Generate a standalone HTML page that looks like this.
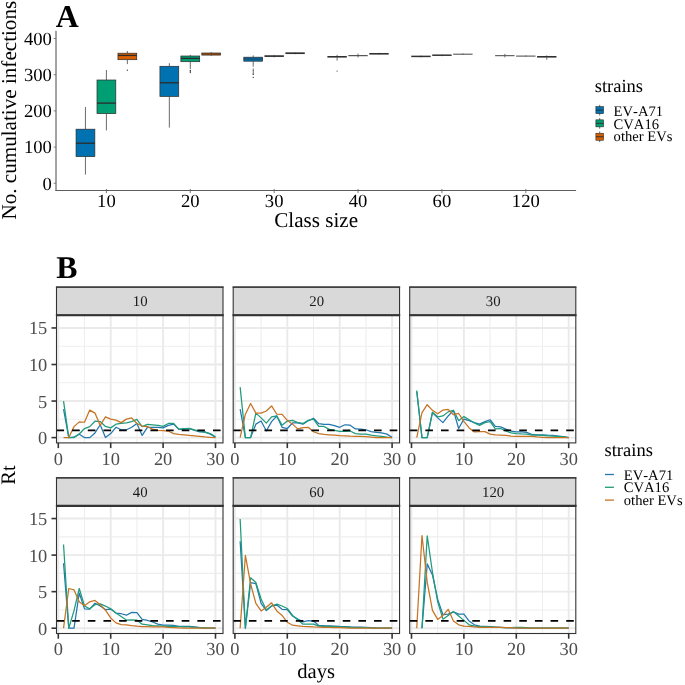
<!DOCTYPE html>
<html lang="en">
<head>
<meta charset="utf-8">
<title>Figure</title>
<style>
html, body { margin: 0; padding: 0; background: #ffffff; }
body { width: 685px; height: 685px; overflow: hidden; font-family: "Liberation Serif", serif; }
svg { display: block; will-change: transform; opacity: 0.999; }
text { font-family: "Liberation Serif", serif; font-kerning: none; text-rendering: geometricPrecision; }
</style>
</head>
<body>
<svg width="685" height="685" viewBox="0 0 685 685">
<rect x="0" y="0" width="685" height="685" fill="#ffffff"/>
<text x="55.7" y="26.6" font-family='"Liberation Serif", serif' font-weight="bold" font-size="31.8" fill="#000">A</text>
<line x1="56.0" y1="30.8" x2="56.0" y2="191.0" stroke="#484848" stroke-width="1"/>
<line x1="55.5" y1="190.5" x2="576.1" y2="190.5" stroke="#5c5c5c" stroke-width="1"/>
<line x1="53.6" y1="183.30" x2="56.0" y2="183.30" stroke="#5a5a5a" stroke-width="0.7"/>
<text x="51.9" y="189.50" text-anchor="end" font-family='"Liberation Serif", serif' font-size="18.6" fill="#000">0</text>
<line x1="53.6" y1="147.10" x2="56.0" y2="147.10" stroke="#5a5a5a" stroke-width="0.7"/>
<text x="51.9" y="153.30" text-anchor="end" font-family='"Liberation Serif", serif' font-size="18.6" fill="#000">100</text>
<line x1="53.6" y1="110.90" x2="56.0" y2="110.90" stroke="#5a5a5a" stroke-width="0.7"/>
<text x="51.9" y="117.10" text-anchor="end" font-family='"Liberation Serif", serif' font-size="18.6" fill="#000">200</text>
<line x1="53.6" y1="74.70" x2="56.0" y2="74.70" stroke="#5a5a5a" stroke-width="0.7"/>
<text x="51.9" y="80.90" text-anchor="end" font-family='"Liberation Serif", serif' font-size="18.6" fill="#000">300</text>
<line x1="53.6" y1="38.50" x2="56.0" y2="38.50" stroke="#5a5a5a" stroke-width="0.7"/>
<text x="51.9" y="44.70" text-anchor="end" font-family='"Liberation Serif", serif' font-size="18.6" fill="#000">400</text>
<line x1="106.40" y1="188.9" x2="106.40" y2="193.1" stroke="#5a5a5a" stroke-width="0.8"/>
<text x="106.40" y="207.4" text-anchor="middle" font-family='"Liberation Serif", serif' font-size="18.6" fill="#000">10</text>
<line x1="190.28" y1="188.9" x2="190.28" y2="193.1" stroke="#5a5a5a" stroke-width="0.8"/>
<text x="190.28" y="207.4" text-anchor="middle" font-family='"Liberation Serif", serif' font-size="18.6" fill="#000">20</text>
<line x1="274.16" y1="188.9" x2="274.16" y2="193.1" stroke="#5a5a5a" stroke-width="0.8"/>
<text x="274.16" y="207.4" text-anchor="middle" font-family='"Liberation Serif", serif' font-size="18.6" fill="#000">30</text>
<line x1="358.04" y1="188.9" x2="358.04" y2="193.1" stroke="#5a5a5a" stroke-width="0.8"/>
<text x="358.04" y="207.4" text-anchor="middle" font-family='"Liberation Serif", serif' font-size="18.6" fill="#000">40</text>
<line x1="441.92" y1="188.9" x2="441.92" y2="193.1" stroke="#5a5a5a" stroke-width="0.8"/>
<text x="441.92" y="207.4" text-anchor="middle" font-family='"Liberation Serif", serif' font-size="18.6" fill="#000">60</text>
<line x1="525.80" y1="188.9" x2="525.80" y2="193.1" stroke="#5a5a5a" stroke-width="0.8"/>
<text x="525.80" y="207.4" text-anchor="middle" font-family='"Liberation Serif", serif' font-size="18.6" fill="#000">120</text>
<text x="316.2" y="227.4" text-anchor="middle" font-family='"Liberation Serif", serif' font-size="21.1" fill="#000">Class size</text>
<text transform="translate(16.3,110.2) rotate(-90)" text-anchor="middle" font-family='"Liberation Serif", serif' font-size="21.13" fill="#000">No. cumulative infections</text>
<line x1="85.45" y1="107.0" x2="85.45" y2="129.2" stroke="#2b2b2b" stroke-width="0.7"/>
<line x1="85.45" y1="156.6" x2="85.45" y2="174.6" stroke="#2b2b2b" stroke-width="0.7"/>
<rect x="76.05" y="129.2" width="18.8" height="27.40" fill="#0072B2" stroke="#2b2b2b" stroke-width="0.7"/>
<line x1="76.05" y1="143.2" x2="94.85" y2="143.2" stroke="#2b2b2b" stroke-width="1.3"/>
<line x1="106.40" y1="70.0" x2="106.40" y2="80.0" stroke="#2b2b2b" stroke-width="0.7"/>
<line x1="106.40" y1="113.6" x2="106.40" y2="130.4" stroke="#2b2b2b" stroke-width="0.7"/>
<rect x="97.00" y="80.0" width="18.8" height="33.60" fill="#009E73" stroke="#2b2b2b" stroke-width="0.7"/>
<line x1="97.00" y1="103.1" x2="115.80" y2="103.1" stroke="#2b2b2b" stroke-width="1.3"/>
<line x1="127.35" y1="51.0" x2="127.35" y2="53.2" stroke="#2b2b2b" stroke-width="0.7"/>
<line x1="127.35" y1="59.7" x2="127.35" y2="64.1" stroke="#2b2b2b" stroke-width="0.7"/>
<rect x="117.95" y="53.2" width="18.8" height="6.50" fill="#D55E00" stroke="#2b2b2b" stroke-width="0.7"/>
<line x1="117.95" y1="55.4" x2="136.75" y2="55.4" stroke="#2b2b2b" stroke-width="1.3"/>
<circle cx="127.35" cy="70.2" r="0.6" fill="#222"/>
<line x1="169.33" y1="63.2" x2="169.33" y2="66.3" stroke="#2b2b2b" stroke-width="0.7"/>
<line x1="169.33" y1="96.4" x2="169.33" y2="127.6" stroke="#2b2b2b" stroke-width="0.7"/>
<rect x="159.93" y="66.3" width="18.8" height="30.10" fill="#0072B2" stroke="#2b2b2b" stroke-width="0.7"/>
<line x1="159.93" y1="82.8" x2="178.73" y2="82.8" stroke="#2b2b2b" stroke-width="1.3"/>
<line x1="190.28" y1="54.9" x2="190.28" y2="56.0" stroke="#2b2b2b" stroke-width="0.7"/>
<line x1="190.28" y1="61.7" x2="190.28" y2="69.0" stroke="#2b2b2b" stroke-width="0.7"/>
<rect x="180.88" y="56.0" width="18.8" height="5.70" fill="#009E73" stroke="#2b2b2b" stroke-width="0.7"/>
<line x1="180.88" y1="58.4" x2="199.68" y2="58.4" stroke="#2b2b2b" stroke-width="1.3"/>
<circle cx="190.28" cy="70.4" r="0.6" fill="#222"/>
<circle cx="190.28" cy="71.6" r="0.6" fill="#222"/>
<circle cx="190.28" cy="72.6" r="0.6" fill="#222"/>
<line x1="211.23" y1="52.2" x2="211.23" y2="53.0" stroke="#2b2b2b" stroke-width="0.7"/>
<line x1="211.23" y1="55.1" x2="211.23" y2="55.8" stroke="#2b2b2b" stroke-width="0.7"/>
<rect x="201.83" y="53.0" width="18.8" height="2.10" fill="#D55E00" stroke="#2b2b2b" stroke-width="0.7"/>
<line x1="201.83" y1="54.0" x2="220.63" y2="54.0" stroke="#2b2b2b" stroke-width="0.7"/>
<line x1="253.21" y1="55.4" x2="253.21" y2="57.2" stroke="#2b2b2b" stroke-width="0.7"/>
<line x1="253.21" y1="61.2" x2="253.21" y2="66.6" stroke="#2b2b2b" stroke-width="0.7"/>
<rect x="243.81" y="57.2" width="18.8" height="4.00" fill="#0072B2" stroke="#2b2b2b" stroke-width="0.7"/>
<line x1="243.81" y1="59.0" x2="262.61" y2="59.0" stroke="#2b2b2b" stroke-width="0.7"/>
<circle cx="253.21" cy="69.0" r="0.6" fill="#222"/>
<circle cx="253.21" cy="70.3" r="0.6" fill="#222"/>
<circle cx="253.21" cy="71.8" r="0.6" fill="#222"/>
<circle cx="253.21" cy="73.2" r="0.6" fill="#222"/>
<circle cx="253.21" cy="74.4" r="0.6" fill="#222"/>
<circle cx="253.21" cy="77.4" r="0.6" fill="#222"/>
<line x1="274.16" y1="54.9" x2="274.16" y2="55.6" stroke="#2b2b2b" stroke-width="0.7"/>
<line x1="274.16" y1="56.7" x2="274.16" y2="57.4" stroke="#2b2b2b" stroke-width="0.7"/>
<line x1="264.46" y1="56.1" x2="283.86" y2="56.1" stroke="#303030" stroke-width="1.7"/>
<line x1="295.11" y1="52.2" x2="295.11" y2="52.7" stroke="#2b2b2b" stroke-width="0.7"/>
<line x1="295.11" y1="53.7" x2="295.11" y2="54.2" stroke="#2b2b2b" stroke-width="0.7"/>
<line x1="285.41" y1="53.2" x2="304.81" y2="53.2" stroke="#303030" stroke-width="1.7"/>
<line x1="337.09" y1="54.9" x2="337.09" y2="56.2" stroke="#2b2b2b" stroke-width="0.7"/>
<line x1="337.09" y1="57.5" x2="337.09" y2="60.6" stroke="#2b2b2b" stroke-width="0.7"/>
<line x1="327.39" y1="56.8" x2="346.79" y2="56.8" stroke="#303030" stroke-width="1.6"/>
<circle cx="337.09" cy="71.0" r="0.6" fill="#222"/>
<line x1="358.04" y1="53.6" x2="358.04" y2="55.3" stroke="#2b2b2b" stroke-width="0.7"/>
<line x1="358.04" y1="56.0" x2="358.04" y2="57.4" stroke="#2b2b2b" stroke-width="0.7"/>
<line x1="348.34" y1="55.7" x2="367.74" y2="55.7" stroke="#303030" stroke-width="1.0"/>
<line x1="378.99" y1="52.8" x2="378.99" y2="53.2" stroke="#2b2b2b" stroke-width="0.7"/>
<line x1="378.99" y1="54.4" x2="378.99" y2="54.8" stroke="#2b2b2b" stroke-width="0.7"/>
<line x1="369.29" y1="53.8" x2="388.69" y2="53.8" stroke="#303030" stroke-width="1.6"/>
<line x1="420.97" y1="55.4" x2="420.97" y2="55.8" stroke="#2b2b2b" stroke-width="0.7"/>
<line x1="420.97" y1="57.0" x2="420.97" y2="57.4" stroke="#2b2b2b" stroke-width="0.7"/>
<line x1="411.27" y1="56.4" x2="430.67" y2="56.4" stroke="#303030" stroke-width="1.5"/>
<line x1="441.92" y1="54.2" x2="441.92" y2="54.6" stroke="#2b2b2b" stroke-width="0.7"/>
<line x1="441.92" y1="55.8" x2="441.92" y2="56.2" stroke="#2b2b2b" stroke-width="0.7"/>
<line x1="432.22" y1="55.2" x2="451.62" y2="55.2" stroke="#303030" stroke-width="1.5"/>
<line x1="462.87" y1="53.4" x2="462.87" y2="53.9" stroke="#2b2b2b" stroke-width="0.7"/>
<line x1="462.87" y1="54.5" x2="462.87" y2="55.0" stroke="#2b2b2b" stroke-width="0.7"/>
<line x1="453.17" y1="54.2" x2="472.57" y2="54.2" stroke="#303030" stroke-width="0.9"/>
<line x1="504.85" y1="53.9" x2="504.85" y2="55.3" stroke="#2b2b2b" stroke-width="0.7"/>
<line x1="504.85" y1="56.1" x2="504.85" y2="57.4" stroke="#2b2b2b" stroke-width="0.7"/>
<line x1="495.15" y1="55.7" x2="514.55" y2="55.7" stroke="#303030" stroke-width="0.9"/>
<line x1="525.80" y1="55.3" x2="525.80" y2="55.8" stroke="#2b2b2b" stroke-width="0.7"/>
<line x1="525.80" y1="56.4" x2="525.80" y2="56.8" stroke="#2b2b2b" stroke-width="0.7"/>
<line x1="516.10" y1="56.1" x2="535.50" y2="56.1" stroke="#303030" stroke-width="0.9"/>
<line x1="546.75" y1="55.4" x2="546.75" y2="56.1" stroke="#2b2b2b" stroke-width="0.7"/>
<line x1="546.75" y1="57.5" x2="546.75" y2="59.7" stroke="#2b2b2b" stroke-width="0.7"/>
<line x1="537.05" y1="56.8" x2="556.45" y2="56.8" stroke="#303030" stroke-width="1.6"/>
<text x="594.7" y="92.1" font-family='"Liberation Serif", serif' font-size="18.55" fill="#000">strains</text>
<line x1="599.7" y1="104.85" x2="599.7" y2="115.45" stroke="#2b2b2b" stroke-width="0.7"/>
<rect x="595.9" y="106.65" width="7.6" height="7.0" fill="#0072B2" stroke="#2b2b2b" stroke-width="0.6"/>
<line x1="595.9" y1="110.15" x2="603.5" y2="110.15" stroke="#2b2b2b" stroke-width="0.9"/>
<text x="613.6" y="115.70" font-family='"Liberation Serif", serif' font-size="14.6" fill="#000">EV-A71</text>
<line x1="599.7" y1="118.05" x2="599.7" y2="128.65" stroke="#2b2b2b" stroke-width="0.7"/>
<rect x="595.9" y="119.85" width="7.6" height="7.0" fill="#009E73" stroke="#2b2b2b" stroke-width="0.6"/>
<line x1="595.9" y1="123.35" x2="603.5" y2="123.35" stroke="#2b2b2b" stroke-width="0.9"/>
<text x="613.6" y="128.55" font-family='"Liberation Serif", serif' font-size="14.6" fill="#000">CVA16</text>
<line x1="599.7" y1="131.45" x2="599.7" y2="142.05" stroke="#2b2b2b" stroke-width="0.7"/>
<rect x="595.9" y="133.25" width="7.6" height="7.0" fill="#D55E00" stroke="#2b2b2b" stroke-width="0.6"/>
<line x1="595.9" y1="136.75" x2="603.5" y2="136.75" stroke="#2b2b2b" stroke-width="0.9"/>
<text x="613.6" y="141.40" font-family='"Liberation Serif", serif' font-size="14.6" fill="#000">other EVs</text>
<text x="56.3" y="277.8" font-family='"Liberation Serif", serif' font-weight="bold" font-size="31.8" fill="#000">B</text>
<g>
<rect x="56.5" y="315.0" width="166.5" height="127.90" fill="#fff"/>
<line x1="56.5" y1="419.32" x2="223.0" y2="419.32" stroke="#eeeeee" stroke-width="1.1"/>
<line x1="56.5" y1="382.77" x2="223.0" y2="382.77" stroke="#eeeeee" stroke-width="1.1"/>
<line x1="56.5" y1="346.22" x2="223.0" y2="346.22" stroke="#eeeeee" stroke-width="1.1"/>
<line x1="84.50" y1="315.0" x2="84.50" y2="442.9" stroke="#eeeeee" stroke-width="1.1"/>
<line x1="136.90" y1="315.0" x2="136.90" y2="442.9" stroke="#eeeeee" stroke-width="1.1"/>
<line x1="189.30" y1="315.0" x2="189.30" y2="442.9" stroke="#eeeeee" stroke-width="1.1"/>
<line x1="56.5" y1="437.60" x2="223.0" y2="437.60" stroke="#eaeaea" stroke-width="1.9"/>
<line x1="56.5" y1="401.05" x2="223.0" y2="401.05" stroke="#eaeaea" stroke-width="1.9"/>
<line x1="56.5" y1="364.50" x2="223.0" y2="364.50" stroke="#eaeaea" stroke-width="1.9"/>
<line x1="56.5" y1="327.95" x2="223.0" y2="327.95" stroke="#eaeaea" stroke-width="1.9"/>
<line x1="58.30" y1="315.0" x2="58.30" y2="442.9" stroke="#eaeaea" stroke-width="1.9"/>
<line x1="110.70" y1="315.0" x2="110.70" y2="442.9" stroke="#eaeaea" stroke-width="1.9"/>
<line x1="163.10" y1="315.0" x2="163.10" y2="442.9" stroke="#eaeaea" stroke-width="1.9"/>
<line x1="215.50" y1="315.0" x2="215.50" y2="442.9" stroke="#eaeaea" stroke-width="1.9"/>
<polyline points="63.54,409.09 68.78,437.60 74.02,437.23 79.26,434.16 84.50,437.60 89.74,437.60 94.98,432.92 100.22,424.73 105.46,437.60 110.70,433.58 115.94,427.29 121.18,429.78 126.42,429.78 131.66,427.29 136.90,423.49 142.14,435.41 147.38,427.29 152.62,427.29 157.86,427.29 163.10,427.88 168.34,425.39 173.58,424.15 178.82,429.41 184.06,429.19 189.30,428.54 194.54,430.44 199.78,431.90 205.02,431.90 210.26,434.16 215.50,437.31" fill="none" stroke="#2477ad" stroke-width="1.25" stroke-linejoin="round"/>
<polyline points="63.54,401.05 68.78,437.60 74.02,437.60 79.26,433.94 84.50,428.54 89.74,426.63 94.98,421.23 100.22,421.52 105.46,426.42 110.70,427.88 115.94,424.15 121.18,423.49 126.42,422.98 131.66,421.66 136.90,419.32 142.14,426.63 147.38,424.44 152.62,424.81 157.86,425.39 163.10,426.42 168.34,423.49 173.58,423.49 178.82,429.19 184.06,428.54 189.30,428.32 194.54,429.78 199.78,431.02 205.02,432.34 210.26,433.58 215.50,436.72" fill="none" stroke="#1f9b7b" stroke-width="1.25" stroke-linejoin="round"/>
<polyline points="63.54,437.60 68.78,437.60 74.02,426.63 79.26,421.88 84.50,422.25 89.74,410.11 94.98,413.11 100.22,425.39 105.46,416.84 110.70,419.11 115.94,420.13 121.18,422.61 126.42,419.11 131.66,417.86 136.90,423.49 142.14,426.05 147.38,426.63 152.62,429.19 157.86,430.44 163.10,430.66 168.34,431.02 173.58,433.58 178.82,434.46 184.06,434.82 189.30,435.41 194.54,435.85 199.78,436.28 205.02,436.94 210.26,437.45 215.50,437.60" fill="none" stroke="#c67324" stroke-width="1.25" stroke-linejoin="round"/>
<line x1="56.5" y1="430.29" x2="223.0" y2="430.29" stroke="#000" stroke-width="1.8" stroke-dasharray="7.6 8.05"/>
<rect x="56.5" y="315.0" width="166.5" height="127.90" fill="none" stroke="#333333" stroke-width="1.1"/>
<rect x="56.5" y="287.1" width="166.5" height="27.90" fill="#d9d9d9" stroke="#333333" stroke-width="1.1"/>
<line x1="55.9" y1="315.30" x2="223.6" y2="315.30" stroke="#333333" stroke-width="2.1"/>
<line x1="55.9" y1="287.10" x2="223.6" y2="287.10" stroke="#333333" stroke-width="1.3"/>
<text x="140.15" y="306.05" text-anchor="middle" font-family='"Liberation Serif", serif' font-size="14.8" fill="#1a1a1a">10</text>
<line x1="58.30" y1="442.9" x2="58.30" y2="448.09999999999997" stroke="#333333" stroke-width="1.6"/>
<text x="58.30" y="464.50" text-anchor="middle" font-family='"Liberation Serif", serif' font-size="18.4" fill="#4d4d4d">0</text>
<line x1="110.70" y1="442.9" x2="110.70" y2="448.09999999999997" stroke="#333333" stroke-width="1.6"/>
<text x="110.70" y="464.50" text-anchor="middle" font-family='"Liberation Serif", serif' font-size="18.4" fill="#4d4d4d">10</text>
<line x1="163.10" y1="442.9" x2="163.10" y2="448.09999999999997" stroke="#333333" stroke-width="1.6"/>
<text x="163.10" y="464.50" text-anchor="middle" font-family='"Liberation Serif", serif' font-size="18.4" fill="#4d4d4d">20</text>
<line x1="215.50" y1="442.9" x2="215.50" y2="448.09999999999997" stroke="#333333" stroke-width="1.6"/>
<text x="215.50" y="464.50" text-anchor="middle" font-family='"Liberation Serif", serif' font-size="18.4" fill="#4d4d4d">30</text>
<line x1="51.5" y1="437.60" x2="56.5" y2="437.60" stroke="#333333" stroke-width="1.6"/>
<text x="47.30" y="444.10" text-anchor="end" font-family='"Liberation Serif", serif' font-size="18.4" fill="#4d4d4d">0</text>
<line x1="51.5" y1="401.05" x2="56.5" y2="401.05" stroke="#333333" stroke-width="1.6"/>
<text x="47.30" y="407.55" text-anchor="end" font-family='"Liberation Serif", serif' font-size="18.4" fill="#4d4d4d">5</text>
<line x1="51.5" y1="364.50" x2="56.5" y2="364.50" stroke="#333333" stroke-width="1.6"/>
<text x="47.30" y="371.00" text-anchor="end" font-family='"Liberation Serif", serif' font-size="18.4" fill="#4d4d4d">10</text>
<line x1="51.5" y1="327.95" x2="56.5" y2="327.95" stroke="#333333" stroke-width="1.6"/>
<text x="47.30" y="334.45" text-anchor="end" font-family='"Liberation Serif", serif' font-size="18.4" fill="#4d4d4d">15</text>
</g>
<g>
<rect x="233.2" y="315.0" width="166.35000000000002" height="127.90" fill="#fff"/>
<line x1="233.2" y1="419.32" x2="399.55" y2="419.32" stroke="#eeeeee" stroke-width="1.1"/>
<line x1="233.2" y1="382.77" x2="399.55" y2="382.77" stroke="#eeeeee" stroke-width="1.1"/>
<line x1="233.2" y1="346.22" x2="399.55" y2="346.22" stroke="#eeeeee" stroke-width="1.1"/>
<line x1="261.10" y1="315.0" x2="261.10" y2="442.9" stroke="#eeeeee" stroke-width="1.1"/>
<line x1="313.50" y1="315.0" x2="313.50" y2="442.9" stroke="#eeeeee" stroke-width="1.1"/>
<line x1="365.90" y1="315.0" x2="365.90" y2="442.9" stroke="#eeeeee" stroke-width="1.1"/>
<line x1="233.2" y1="437.60" x2="399.55" y2="437.60" stroke="#eaeaea" stroke-width="1.9"/>
<line x1="233.2" y1="401.05" x2="399.55" y2="401.05" stroke="#eaeaea" stroke-width="1.9"/>
<line x1="233.2" y1="364.50" x2="399.55" y2="364.50" stroke="#eaeaea" stroke-width="1.9"/>
<line x1="233.2" y1="327.95" x2="399.55" y2="327.95" stroke="#eaeaea" stroke-width="1.9"/>
<line x1="234.90" y1="315.0" x2="234.90" y2="442.9" stroke="#eaeaea" stroke-width="1.9"/>
<line x1="287.30" y1="315.0" x2="287.30" y2="442.9" stroke="#eaeaea" stroke-width="1.9"/>
<line x1="339.70" y1="315.0" x2="339.70" y2="442.9" stroke="#eaeaea" stroke-width="1.9"/>
<line x1="392.10" y1="315.0" x2="392.10" y2="442.9" stroke="#eaeaea" stroke-width="1.9"/>
<polyline points="240.14,409.09 245.38,437.60 250.62,437.60 255.86,424.15 261.10,421.01 266.34,431.02 271.58,421.66 276.82,415.96 282.06,427.29 287.30,428.54 292.54,422.98 297.78,422.98 303.02,424.15 308.26,420.79 313.50,418.23 318.74,423.71 323.98,424.44 329.22,424.44 334.46,425.68 339.70,427.29 344.94,424.81 350.18,425.17 355.42,428.90 360.66,429.19 365.90,429.78 371.14,431.68 376.38,432.34 381.62,432.92 386.86,434.16 392.10,437.31" fill="none" stroke="#2477ad" stroke-width="1.25" stroke-linejoin="round"/>
<polyline points="240.14,387.16 245.38,437.60 250.62,437.60 255.86,413.11 261.10,417.86 266.34,423.13 271.58,416.84 276.82,415.96 282.06,425.17 287.30,421.01 292.54,420.35 297.78,422.61 303.02,423.49 308.26,420.35 313.50,419.11 318.74,426.27 323.98,426.42 329.22,429.41 334.46,430.44 339.70,431.39 344.94,431.39 350.18,431.02 355.42,433.58 360.66,434.16 365.90,434.16 371.14,435.19 376.38,435.85 381.62,436.43 386.86,437.09 392.10,437.60" fill="none" stroke="#1f9b7b" stroke-width="1.25" stroke-linejoin="round"/>
<polyline points="240.14,437.60 245.38,414.21 250.62,403.46 255.86,413.11 261.10,413.11 266.34,410.99 271.58,405.95 276.82,414.21 282.06,414.35 287.30,420.35 292.54,424.15 297.78,428.90 303.02,427.66 308.26,427.29 313.50,431.75 318.74,433.58 323.98,434.46 329.22,434.82 334.46,435.19 339.70,435.70 344.94,435.85 350.18,436.21 355.42,436.28 360.66,436.43 365.90,436.72 371.14,437.09 376.38,437.60 381.62,437.60 386.86,437.60 392.10,437.60" fill="none" stroke="#c67324" stroke-width="1.25" stroke-linejoin="round"/>
<line x1="233.2" y1="430.29" x2="399.55" y2="430.29" stroke="#000" stroke-width="1.8" stroke-dasharray="7.6 8.05"/>
<rect x="233.2" y="315.0" width="166.35000000000002" height="127.90" fill="none" stroke="#333333" stroke-width="1.1"/>
<rect x="233.2" y="287.1" width="166.35000000000002" height="27.90" fill="#d9d9d9" stroke="#333333" stroke-width="1.1"/>
<line x1="232.6" y1="315.30" x2="400.15000000000003" y2="315.30" stroke="#333333" stroke-width="2.1"/>
<line x1="232.6" y1="287.10" x2="400.15000000000003" y2="287.10" stroke="#333333" stroke-width="1.3"/>
<text x="316.77" y="306.05" text-anchor="middle" font-family='"Liberation Serif", serif' font-size="14.8" fill="#1a1a1a">20</text>
<line x1="234.90" y1="442.9" x2="234.90" y2="448.09999999999997" stroke="#333333" stroke-width="1.6"/>
<text x="234.90" y="464.50" text-anchor="middle" font-family='"Liberation Serif", serif' font-size="18.4" fill="#4d4d4d">0</text>
<line x1="287.30" y1="442.9" x2="287.30" y2="448.09999999999997" stroke="#333333" stroke-width="1.6"/>
<text x="287.30" y="464.50" text-anchor="middle" font-family='"Liberation Serif", serif' font-size="18.4" fill="#4d4d4d">10</text>
<line x1="339.70" y1="442.9" x2="339.70" y2="448.09999999999997" stroke="#333333" stroke-width="1.6"/>
<text x="339.70" y="464.50" text-anchor="middle" font-family='"Liberation Serif", serif' font-size="18.4" fill="#4d4d4d">20</text>
<line x1="392.10" y1="442.9" x2="392.10" y2="448.09999999999997" stroke="#333333" stroke-width="1.6"/>
<text x="392.10" y="464.50" text-anchor="middle" font-family='"Liberation Serif", serif' font-size="18.4" fill="#4d4d4d">30</text>
</g>
<g>
<rect x="409.7" y="315.0" width="166.09999999999997" height="127.90" fill="#fff"/>
<line x1="409.7" y1="419.32" x2="575.8" y2="419.32" stroke="#eeeeee" stroke-width="1.1"/>
<line x1="409.7" y1="382.77" x2="575.8" y2="382.77" stroke="#eeeeee" stroke-width="1.1"/>
<line x1="409.7" y1="346.22" x2="575.8" y2="346.22" stroke="#eeeeee" stroke-width="1.1"/>
<line x1="437.70" y1="315.0" x2="437.70" y2="442.9" stroke="#eeeeee" stroke-width="1.1"/>
<line x1="490.10" y1="315.0" x2="490.10" y2="442.9" stroke="#eeeeee" stroke-width="1.1"/>
<line x1="542.50" y1="315.0" x2="542.50" y2="442.9" stroke="#eeeeee" stroke-width="1.1"/>
<line x1="409.7" y1="437.60" x2="575.8" y2="437.60" stroke="#eaeaea" stroke-width="1.9"/>
<line x1="409.7" y1="401.05" x2="575.8" y2="401.05" stroke="#eaeaea" stroke-width="1.9"/>
<line x1="409.7" y1="364.50" x2="575.8" y2="364.50" stroke="#eaeaea" stroke-width="1.9"/>
<line x1="409.7" y1="327.95" x2="575.8" y2="327.95" stroke="#eaeaea" stroke-width="1.9"/>
<line x1="411.50" y1="315.0" x2="411.50" y2="442.9" stroke="#eaeaea" stroke-width="1.9"/>
<line x1="463.90" y1="315.0" x2="463.90" y2="442.9" stroke="#eaeaea" stroke-width="1.9"/>
<line x1="516.30" y1="315.0" x2="516.30" y2="442.9" stroke="#eaeaea" stroke-width="1.9"/>
<line x1="568.70" y1="315.0" x2="568.70" y2="442.9" stroke="#eaeaea" stroke-width="1.9"/>
<polyline points="416.74,391.55 421.98,437.60 427.22,437.60 432.46,412.60 437.70,417.86 442.94,422.61 448.18,415.96 453.42,410.33 458.66,428.54 463.90,419.11 469.14,420.64 474.38,422.61 479.62,424.15 484.86,421.66 490.10,419.76 495.34,426.42 500.58,426.93 505.82,429.19 511.06,431.02 516.30,431.90 521.54,431.90 526.78,432.34 532.02,434.46 537.26,434.82 542.50,434.82 547.74,435.19 552.98,435.41 558.22,436.06 563.46,436.72 568.70,437.60" fill="none" stroke="#2477ad" stroke-width="1.25" stroke-linejoin="round"/>
<polyline points="416.74,390.52 421.98,437.60 427.22,437.60 432.46,412.23 437.70,416.84 442.94,415.96 448.18,411.87 453.42,410.33 458.66,420.64 463.90,416.62 469.14,419.76 474.38,422.98 479.62,425.39 484.86,422.61 490.10,421.66 495.34,428.83 500.58,428.54 505.82,431.02 511.06,432.92 516.30,433.58 521.54,433.94 526.78,434.16 532.02,435.19 537.26,435.19 542.50,435.41 547.74,435.85 552.98,436.06 558.22,436.43 563.46,436.94 568.70,437.60" fill="none" stroke="#1f9b7b" stroke-width="1.25" stroke-linejoin="round"/>
<polyline points="416.74,437.60 421.98,412.60 427.22,404.70 432.46,410.33 437.70,413.84 442.94,410.11 448.18,409.31 453.42,414.72 458.66,413.48 463.90,421.37 469.14,427.88 474.38,431.90 479.62,431.68 484.86,431.68 490.10,434.16 495.34,434.97 500.58,435.04 505.82,435.41 511.06,436.06 516.30,436.28 521.54,436.28 526.78,436.43 532.02,436.43 537.26,436.94 542.50,437.31 547.74,437.60 552.98,437.60 558.22,437.60 563.46,437.60 568.70,437.60" fill="none" stroke="#c67324" stroke-width="1.25" stroke-linejoin="round"/>
<line x1="409.7" y1="430.29" x2="575.8" y2="430.29" stroke="#000" stroke-width="1.8" stroke-dasharray="7.6 8.05"/>
<rect x="409.7" y="315.0" width="166.09999999999997" height="127.90" fill="none" stroke="#333333" stroke-width="1.1"/>
<rect x="409.7" y="287.1" width="166.09999999999997" height="27.90" fill="#d9d9d9" stroke="#333333" stroke-width="1.1"/>
<line x1="409.09999999999997" y1="315.30" x2="576.4" y2="315.30" stroke="#333333" stroke-width="2.1"/>
<line x1="409.09999999999997" y1="287.10" x2="576.4" y2="287.10" stroke="#333333" stroke-width="1.3"/>
<text x="493.15" y="306.05" text-anchor="middle" font-family='"Liberation Serif", serif' font-size="14.8" fill="#1a1a1a">30</text>
<line x1="411.50" y1="442.9" x2="411.50" y2="448.09999999999997" stroke="#333333" stroke-width="1.6"/>
<text x="411.50" y="464.50" text-anchor="middle" font-family='"Liberation Serif", serif' font-size="18.4" fill="#4d4d4d">0</text>
<line x1="463.90" y1="442.9" x2="463.90" y2="448.09999999999997" stroke="#333333" stroke-width="1.6"/>
<text x="463.90" y="464.50" text-anchor="middle" font-family='"Liberation Serif", serif' font-size="18.4" fill="#4d4d4d">10</text>
<line x1="516.30" y1="442.9" x2="516.30" y2="448.09999999999997" stroke="#333333" stroke-width="1.6"/>
<text x="516.30" y="464.50" text-anchor="middle" font-family='"Liberation Serif", serif' font-size="18.4" fill="#4d4d4d">20</text>
<line x1="568.70" y1="442.9" x2="568.70" y2="448.09999999999997" stroke="#333333" stroke-width="1.6"/>
<text x="568.70" y="464.50" text-anchor="middle" font-family='"Liberation Serif", serif' font-size="18.4" fill="#4d4d4d">30</text>
</g>
<g>
<rect x="56.5" y="505.6" width="166.5" height="127.90" fill="#fff"/>
<line x1="56.5" y1="609.93" x2="223.0" y2="609.93" stroke="#eeeeee" stroke-width="1.1"/>
<line x1="56.5" y1="573.38" x2="223.0" y2="573.38" stroke="#eeeeee" stroke-width="1.1"/>
<line x1="56.5" y1="536.83" x2="223.0" y2="536.83" stroke="#eeeeee" stroke-width="1.1"/>
<line x1="84.50" y1="505.6" x2="84.50" y2="633.5" stroke="#eeeeee" stroke-width="1.1"/>
<line x1="136.90" y1="505.6" x2="136.90" y2="633.5" stroke="#eeeeee" stroke-width="1.1"/>
<line x1="189.30" y1="505.6" x2="189.30" y2="633.5" stroke="#eeeeee" stroke-width="1.1"/>
<line x1="56.5" y1="628.20" x2="223.0" y2="628.20" stroke="#eaeaea" stroke-width="1.9"/>
<line x1="56.5" y1="591.65" x2="223.0" y2="591.65" stroke="#eaeaea" stroke-width="1.9"/>
<line x1="56.5" y1="555.10" x2="223.0" y2="555.10" stroke="#eaeaea" stroke-width="1.9"/>
<line x1="56.5" y1="518.55" x2="223.0" y2="518.55" stroke="#eaeaea" stroke-width="1.9"/>
<line x1="58.30" y1="505.6" x2="58.30" y2="633.5" stroke="#eaeaea" stroke-width="1.9"/>
<line x1="110.70" y1="505.6" x2="110.70" y2="633.5" stroke="#eaeaea" stroke-width="1.9"/>
<line x1="163.10" y1="505.6" x2="163.10" y2="633.5" stroke="#eaeaea" stroke-width="1.9"/>
<line x1="215.50" y1="505.6" x2="215.50" y2="633.5" stroke="#eaeaea" stroke-width="1.9"/>
<polyline points="63.54,563.21 68.78,628.20 74.02,628.20 79.26,593.11 84.50,608.83 89.74,609.12 94.98,603.20 100.22,606.05 105.46,609.56 110.70,609.12 115.94,613.07 121.18,613.73 126.42,615.19 131.66,612.34 136.90,612.56 142.14,619.28 147.38,620.31 152.62,621.99 157.86,624.18 163.10,625.20 168.34,625.20 173.58,625.42 178.82,626.45 184.06,626.45 189.30,626.45 194.54,626.96 199.78,627.54 205.02,627.98 210.26,628.20 215.50,628.20" fill="none" stroke="#2477ad" stroke-width="1.25" stroke-linejoin="round"/>
<polyline points="63.54,544.57 68.78,628.20 74.02,610.66 79.26,588.51 84.50,606.05 89.74,608.83 94.98,604.66 100.22,603.93 105.46,606.05 110.70,608.83 115.94,613.07 121.18,616.58 126.42,620.09 131.66,619.79 136.90,620.16 142.14,624.18 147.38,624.91 152.62,625.57 157.86,625.79 163.10,626.08 168.34,626.30 173.58,626.45 178.82,626.66 184.06,626.96 189.30,626.96 194.54,627.32 199.78,627.69 205.02,628.20 210.26,628.20 215.50,628.20" fill="none" stroke="#1f9b7b" stroke-width="1.25" stroke-linejoin="round"/>
<polyline points="63.54,628.20 68.78,588.51 74.02,589.90 79.26,601.81 84.50,605.76 89.74,601.81 94.98,600.42 100.22,604.66 105.46,610.22 110.70,617.97 115.94,622.86 121.18,624.69 126.42,624.98 131.66,625.71 136.90,626.23 142.14,626.59 147.38,626.74 152.62,626.88 157.86,626.88 163.10,626.96 168.34,627.32 173.58,627.54 178.82,627.98 184.06,628.20 189.30,628.20 194.54,628.20 199.78,628.20 205.02,628.20 210.26,628.20 215.50,628.20" fill="none" stroke="#c67324" stroke-width="1.25" stroke-linejoin="round"/>
<line x1="56.5" y1="620.89" x2="223.0" y2="620.89" stroke="#000" stroke-width="1.8" stroke-dasharray="7.6 8.05"/>
<rect x="56.5" y="505.6" width="166.5" height="127.90" fill="none" stroke="#333333" stroke-width="1.1"/>
<rect x="56.5" y="477.8" width="166.5" height="27.80" fill="#d9d9d9" stroke="#333333" stroke-width="1.1"/>
<line x1="55.9" y1="505.90" x2="223.6" y2="505.90" stroke="#333333" stroke-width="2.1"/>
<line x1="55.9" y1="477.80" x2="223.6" y2="477.80" stroke="#333333" stroke-width="1.3"/>
<text x="140.15" y="496.70" text-anchor="middle" font-family='"Liberation Serif", serif' font-size="14.8" fill="#1a1a1a">40</text>
<line x1="58.30" y1="633.5" x2="58.30" y2="638.7" stroke="#333333" stroke-width="1.6"/>
<text x="58.30" y="655.10" text-anchor="middle" font-family='"Liberation Serif", serif' font-size="18.4" fill="#4d4d4d">0</text>
<line x1="110.70" y1="633.5" x2="110.70" y2="638.7" stroke="#333333" stroke-width="1.6"/>
<text x="110.70" y="655.10" text-anchor="middle" font-family='"Liberation Serif", serif' font-size="18.4" fill="#4d4d4d">10</text>
<line x1="163.10" y1="633.5" x2="163.10" y2="638.7" stroke="#333333" stroke-width="1.6"/>
<text x="163.10" y="655.10" text-anchor="middle" font-family='"Liberation Serif", serif' font-size="18.4" fill="#4d4d4d">20</text>
<line x1="215.50" y1="633.5" x2="215.50" y2="638.7" stroke="#333333" stroke-width="1.6"/>
<text x="215.50" y="655.10" text-anchor="middle" font-family='"Liberation Serif", serif' font-size="18.4" fill="#4d4d4d">30</text>
<line x1="51.5" y1="628.20" x2="56.5" y2="628.20" stroke="#333333" stroke-width="1.6"/>
<text x="47.30" y="634.70" text-anchor="end" font-family='"Liberation Serif", serif' font-size="18.4" fill="#4d4d4d">0</text>
<line x1="51.5" y1="591.65" x2="56.5" y2="591.65" stroke="#333333" stroke-width="1.6"/>
<text x="47.30" y="598.15" text-anchor="end" font-family='"Liberation Serif", serif' font-size="18.4" fill="#4d4d4d">5</text>
<line x1="51.5" y1="555.10" x2="56.5" y2="555.10" stroke="#333333" stroke-width="1.6"/>
<text x="47.30" y="561.60" text-anchor="end" font-family='"Liberation Serif", serif' font-size="18.4" fill="#4d4d4d">10</text>
<line x1="51.5" y1="518.55" x2="56.5" y2="518.55" stroke="#333333" stroke-width="1.6"/>
<text x="47.30" y="525.05" text-anchor="end" font-family='"Liberation Serif", serif' font-size="18.4" fill="#4d4d4d">15</text>
</g>
<g>
<rect x="233.2" y="505.6" width="166.35000000000002" height="127.90" fill="#fff"/>
<line x1="233.2" y1="609.93" x2="399.55" y2="609.93" stroke="#eeeeee" stroke-width="1.1"/>
<line x1="233.2" y1="573.38" x2="399.55" y2="573.38" stroke="#eeeeee" stroke-width="1.1"/>
<line x1="233.2" y1="536.83" x2="399.55" y2="536.83" stroke="#eeeeee" stroke-width="1.1"/>
<line x1="261.10" y1="505.6" x2="261.10" y2="633.5" stroke="#eeeeee" stroke-width="1.1"/>
<line x1="313.50" y1="505.6" x2="313.50" y2="633.5" stroke="#eeeeee" stroke-width="1.1"/>
<line x1="365.90" y1="505.6" x2="365.90" y2="633.5" stroke="#eeeeee" stroke-width="1.1"/>
<line x1="233.2" y1="628.20" x2="399.55" y2="628.20" stroke="#eaeaea" stroke-width="1.9"/>
<line x1="233.2" y1="591.65" x2="399.55" y2="591.65" stroke="#eaeaea" stroke-width="1.9"/>
<line x1="233.2" y1="555.10" x2="399.55" y2="555.10" stroke="#eaeaea" stroke-width="1.9"/>
<line x1="233.2" y1="518.55" x2="399.55" y2="518.55" stroke="#eaeaea" stroke-width="1.9"/>
<line x1="234.90" y1="505.6" x2="234.90" y2="633.5" stroke="#eaeaea" stroke-width="1.9"/>
<line x1="287.30" y1="505.6" x2="287.30" y2="633.5" stroke="#eaeaea" stroke-width="1.9"/>
<line x1="339.70" y1="505.6" x2="339.70" y2="633.5" stroke="#eaeaea" stroke-width="1.9"/>
<line x1="392.10" y1="505.6" x2="392.10" y2="633.5" stroke="#eaeaea" stroke-width="1.9"/>
<polyline points="240.14,541.21 245.38,628.20 250.62,582.66 255.86,583.68 261.10,603.42 266.34,610.58 271.58,605.98 276.82,605.10 282.06,609.34 287.30,609.71 292.54,615.99 297.78,619.14 303.02,621.91 308.26,620.67 313.50,621.04 318.74,625.42 323.98,625.71 329.22,625.79 334.46,626.08 339.70,626.45 344.94,626.66 350.18,626.96 355.42,627.10 360.66,627.10 365.90,627.32 371.14,627.69 376.38,628.20 381.62,628.20 386.86,628.20 392.10,628.20" fill="none" stroke="#2477ad" stroke-width="1.25" stroke-linejoin="round"/>
<polyline points="240.14,518.92 245.38,628.20 250.62,577.76 255.86,582.44 261.10,598.96 266.34,610.07 271.58,605.98 276.82,604.08 282.06,605.98 287.30,608.46 292.54,615.41 297.78,619.79 303.02,624.18 308.26,624.18 313.50,624.18 318.74,626.08 323.98,626.30 329.22,626.45 334.46,626.66 339.70,626.96 344.94,627.10 350.18,627.32 355.42,627.69 360.66,627.69 365.90,627.69 371.14,627.98 376.38,628.20 381.62,628.20 386.86,628.20 392.10,628.20" fill="none" stroke="#1f9b7b" stroke-width="1.25" stroke-linejoin="round"/>
<polyline points="240.14,628.20 245.38,555.47 250.62,583.97 255.86,603.42 261.10,610.95 266.34,607.22 271.58,602.83 276.82,610.95 282.06,615.41 287.30,622.28 292.54,625.20 297.78,625.79 303.02,626.30 308.26,626.66 313.50,626.96 318.74,627.10 323.98,627.32 329.22,627.47 334.46,627.69 339.70,627.69 344.94,627.98 350.18,628.20 355.42,628.20 360.66,628.20 365.90,628.20 371.14,628.20 376.38,628.20 381.62,628.20 386.86,628.20 392.10,628.20" fill="none" stroke="#c67324" stroke-width="1.25" stroke-linejoin="round"/>
<line x1="233.2" y1="620.89" x2="399.55" y2="620.89" stroke="#000" stroke-width="1.8" stroke-dasharray="7.6 8.05"/>
<rect x="233.2" y="505.6" width="166.35000000000002" height="127.90" fill="none" stroke="#333333" stroke-width="1.1"/>
<rect x="233.2" y="477.8" width="166.35000000000002" height="27.80" fill="#d9d9d9" stroke="#333333" stroke-width="1.1"/>
<line x1="232.6" y1="505.90" x2="400.15000000000003" y2="505.90" stroke="#333333" stroke-width="2.1"/>
<line x1="232.6" y1="477.80" x2="400.15000000000003" y2="477.80" stroke="#333333" stroke-width="1.3"/>
<text x="316.77" y="496.70" text-anchor="middle" font-family='"Liberation Serif", serif' font-size="14.8" fill="#1a1a1a">60</text>
<line x1="234.90" y1="633.5" x2="234.90" y2="638.7" stroke="#333333" stroke-width="1.6"/>
<text x="234.90" y="655.10" text-anchor="middle" font-family='"Liberation Serif", serif' font-size="18.4" fill="#4d4d4d">0</text>
<line x1="287.30" y1="633.5" x2="287.30" y2="638.7" stroke="#333333" stroke-width="1.6"/>
<text x="287.30" y="655.10" text-anchor="middle" font-family='"Liberation Serif", serif' font-size="18.4" fill="#4d4d4d">10</text>
<line x1="339.70" y1="633.5" x2="339.70" y2="638.7" stroke="#333333" stroke-width="1.6"/>
<text x="339.70" y="655.10" text-anchor="middle" font-family='"Liberation Serif", serif' font-size="18.4" fill="#4d4d4d">20</text>
<line x1="392.10" y1="633.5" x2="392.10" y2="638.7" stroke="#333333" stroke-width="1.6"/>
<text x="392.10" y="655.10" text-anchor="middle" font-family='"Liberation Serif", serif' font-size="18.4" fill="#4d4d4d">30</text>
</g>
<g>
<rect x="409.7" y="505.6" width="166.09999999999997" height="127.90" fill="#fff"/>
<line x1="409.7" y1="609.93" x2="575.8" y2="609.93" stroke="#eeeeee" stroke-width="1.1"/>
<line x1="409.7" y1="573.38" x2="575.8" y2="573.38" stroke="#eeeeee" stroke-width="1.1"/>
<line x1="409.7" y1="536.83" x2="575.8" y2="536.83" stroke="#eeeeee" stroke-width="1.1"/>
<line x1="437.70" y1="505.6" x2="437.70" y2="633.5" stroke="#eeeeee" stroke-width="1.1"/>
<line x1="490.10" y1="505.6" x2="490.10" y2="633.5" stroke="#eeeeee" stroke-width="1.1"/>
<line x1="542.50" y1="505.6" x2="542.50" y2="633.5" stroke="#eeeeee" stroke-width="1.1"/>
<line x1="409.7" y1="628.20" x2="575.8" y2="628.20" stroke="#eaeaea" stroke-width="1.9"/>
<line x1="409.7" y1="591.65" x2="575.8" y2="591.65" stroke="#eaeaea" stroke-width="1.9"/>
<line x1="409.7" y1="555.10" x2="575.8" y2="555.10" stroke="#eaeaea" stroke-width="1.9"/>
<line x1="409.7" y1="518.55" x2="575.8" y2="518.55" stroke="#eaeaea" stroke-width="1.9"/>
<line x1="411.50" y1="505.6" x2="411.50" y2="633.5" stroke="#eaeaea" stroke-width="1.9"/>
<line x1="463.90" y1="505.6" x2="463.90" y2="633.5" stroke="#eaeaea" stroke-width="1.9"/>
<line x1="516.30" y1="505.6" x2="516.30" y2="633.5" stroke="#eaeaea" stroke-width="1.9"/>
<line x1="568.70" y1="505.6" x2="568.70" y2="633.5" stroke="#eaeaea" stroke-width="1.9"/>
<polyline points="421.98,628.20 427.22,563.87 432.46,574.98 437.70,599.33 442.94,614.75 448.18,614.09 453.42,611.83 458.66,614.09 463.90,614.09 469.14,621.04 474.38,624.84 479.62,626.08 484.86,626.30 490.10,626.66 495.34,627.10 500.58,627.47 505.82,627.69 511.06,627.83 516.30,627.98 521.54,628.20 526.78,628.20 532.02,628.20 537.26,628.20 542.50,628.20 547.74,628.20 552.98,628.20 558.22,628.20 563.46,628.20 568.70,628.20" fill="none" stroke="#2477ad" stroke-width="1.25" stroke-linejoin="round"/>
<polyline points="421.98,628.20 427.22,535.80 432.46,572.28 437.70,601.88 442.94,619.14 448.18,615.41 453.42,611.61 458.66,615.99 463.90,620.38 469.14,624.84 474.38,626.08 479.62,626.45 484.86,626.66 490.10,626.96 495.34,627.32 500.58,627.47 505.82,627.54 511.06,627.54 516.30,627.47 521.54,627.47 526.78,627.69 532.02,628.20 537.26,628.20 542.50,628.20 547.74,628.20 552.98,628.20 558.22,628.20 563.46,628.20 568.70,628.20" fill="none" stroke="#1f9b7b" stroke-width="1.25" stroke-linejoin="round"/>
<polyline points="416.74,628.20 421.98,535.51 427.22,582.15 432.46,610.36 437.70,619.43 442.94,615.41 448.18,609.34 453.42,621.04 458.66,624.84 463.90,626.08 469.14,626.45 474.38,626.96 479.62,627.32 484.86,627.47 490.10,627.25 495.34,627.47 500.58,627.47 505.82,627.54 511.06,627.69 516.30,628.20 521.54,628.20 526.78,628.20 532.02,628.20 537.26,628.20 542.50,628.20 547.74,628.20 552.98,628.20 558.22,628.20 563.46,628.20 568.70,628.20" fill="none" stroke="#c67324" stroke-width="1.25" stroke-linejoin="round"/>
<line x1="409.7" y1="620.89" x2="575.8" y2="620.89" stroke="#000" stroke-width="1.8" stroke-dasharray="7.6 8.05"/>
<rect x="409.7" y="505.6" width="166.09999999999997" height="127.90" fill="none" stroke="#333333" stroke-width="1.1"/>
<rect x="409.7" y="477.8" width="166.09999999999997" height="27.80" fill="#d9d9d9" stroke="#333333" stroke-width="1.1"/>
<line x1="409.09999999999997" y1="505.90" x2="576.4" y2="505.90" stroke="#333333" stroke-width="2.1"/>
<line x1="409.09999999999997" y1="477.80" x2="576.4" y2="477.80" stroke="#333333" stroke-width="1.3"/>
<text x="493.15" y="496.70" text-anchor="middle" font-family='"Liberation Serif", serif' font-size="14.8" fill="#1a1a1a">120</text>
<line x1="411.50" y1="633.5" x2="411.50" y2="638.7" stroke="#333333" stroke-width="1.6"/>
<text x="411.50" y="655.10" text-anchor="middle" font-family='"Liberation Serif", serif' font-size="18.4" fill="#4d4d4d">0</text>
<line x1="463.90" y1="633.5" x2="463.90" y2="638.7" stroke="#333333" stroke-width="1.6"/>
<text x="463.90" y="655.10" text-anchor="middle" font-family='"Liberation Serif", serif' font-size="18.4" fill="#4d4d4d">10</text>
<line x1="516.30" y1="633.5" x2="516.30" y2="638.7" stroke="#333333" stroke-width="1.6"/>
<text x="516.30" y="655.10" text-anchor="middle" font-family='"Liberation Serif", serif' font-size="18.4" fill="#4d4d4d">20</text>
<line x1="568.70" y1="633.5" x2="568.70" y2="638.7" stroke="#333333" stroke-width="1.6"/>
<text x="568.70" y="655.10" text-anchor="middle" font-family='"Liberation Serif", serif' font-size="18.4" fill="#4d4d4d">30</text>
</g>
<text x="316.1" y="678" text-anchor="middle" font-family='"Liberation Serif", serif' font-size="20.6" fill="#000">days</text>
<text transform="translate(15.1,474.9) rotate(-90)" text-anchor="middle" font-family='"Liberation Serif", serif' font-size="20.6" fill="#000">Rt</text>
<text x="604.5" y="456.0" font-family='"Liberation Serif", serif' font-size="18.55" fill="#000">strains</text>
<line x1="605" y1="474.50" x2="613.9" y2="474.50" stroke="#2477ad" stroke-width="1.3"/>
<text x="623.8" y="479.60" font-family='"Liberation Serif", serif' font-size="14.6" fill="#000">EV-A71</text>
<line x1="605" y1="487.30" x2="613.9" y2="487.30" stroke="#1f9b7b" stroke-width="1.3"/>
<text x="623.8" y="492.40" font-family='"Liberation Serif", serif' font-size="14.6" fill="#000">CVA16</text>
<line x1="605" y1="500.10" x2="613.9" y2="500.10" stroke="#c67324" stroke-width="1.3"/>
<text x="623.8" y="505.20" font-family='"Liberation Serif", serif' font-size="14.6" fill="#000">other EVs</text>
</svg>
</body>
</html>
